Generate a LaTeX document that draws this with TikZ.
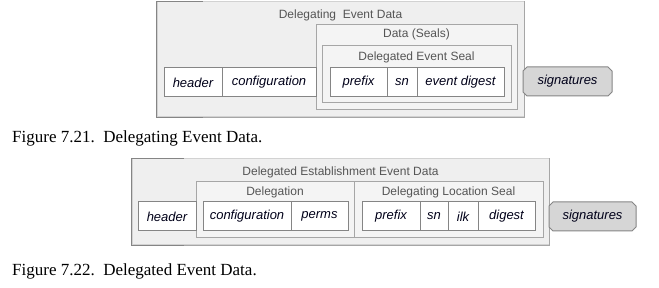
\documentclass[tikz,border=0pt]{standalone}
\usepackage{fontspec}
\setmainfont{Liberation Serif}
\setsansfont{Liberation Sans}
\usetikzlibrary{calc}
\definecolor{outerfill}{HTML}{EFEFEF}
\definecolor{innerfill}{HTML}{F4F4F4}
\definecolor{edgelight}{HTML}{D2D2D2}
\definecolor{edgemid}{HTML}{A6A6A6}
\definecolor{edgedark}{HTML}{858585}
\definecolor{titlegray}{HTML}{555555}
\definecolor{sigfill}{HTML}{D6D6D6}
\tikzset{
  outerbox/.style={draw=edgelight, fill=outerfill, line width=1pt, inner sep=0pt},
  innerbox/.style={draw=edgemid, fill=innerfill, line width=1pt, inner sep=0pt},
  field/.style={draw=edgedark, fill=white, line width=1pt, inner sep=0pt,
    minimum height=29pt, font=\sffamily\itshape\fontsize{13}{15}\selectfont, text=black!90!blue},
  boxtitle/.style={font=\sffamily\fontsize{12}{14}\selectfont, text=titlegray, inner sep=0pt},
  sigtext/.style={font=\sffamily\itshape\fontsize{13}{15}\selectfont, text=black!90!blue, inner sep=0pt},
  sigshape/.style={draw=edgedark, fill=sigfill, line width=1pt},
  bracket/.style={draw=edgedark, line width=1.4pt},
  caption/.style={font=\fontsize{17}{19}\selectfont, inner sep=0pt, anchor=west},
}
\begin{document}
\begin{tikzpicture}[x=1pt, y=-1pt]
\useasboundingbox (0,0) rectangle (659,288);

% ---------- Delegating Event Data ----------
\node[outerbox, minimum width=367pt, minimum height=115pt] (out1) at (340.5,59.5) {};
\draw[edgemid, line width=1pt] (out1.north east) -- (out1.south east) -- (out1.south west);
\draw[bracket] ($(out1.north west)+(46,0)$) -- (out1.north west) -- (out1.south west) -- ($(out1.south west)+(46,0)$);
\node[boxtitle] (t1) at (340.5,15) {Delegating\ \ Event Data};

\node[innerbox, minimum width=201pt, minimum height=85pt] (data) at (416.5,67.5) {};
\node[boxtitle] (tdata) at (416.5,34) {Data (Seals)};
\node[innerbox, minimum width=189pt, minimum height=57pt] (seal1) at (416.5,74.5) {};
\node[boxtitle] (tseal1) at (416.5,57) {Delegated Event Seal};

\node[field, minimum width=58pt] (hdr1) at (193,82.5) {header};
\node[field, minimum width=94pt] (cfg1) at (269,82.5) {configuration};
\node[field, minimum width=57pt] (pfx1) at (358.5,82.5) {prefix};
\node[field, minimum width=30pt] (sn1) at (402,82.5) {sn};
\node[field, minimum width=87pt] (dig1) at (460.5,82.5) {event digest};

\draw[sigshape] (527,67) -- (608,67) -- (612,71) -- (612,92) -- (608,96)
  -- (527,96) -- (523,92) -- (523,71) -- cycle;
\node[sigtext] (sig1) at (567.5,81.5) {signatures};

\node[caption] (cap1) at (12,138) {Figure 7.21.\ \ Delegating Event Data.};

% ---------- Delegated Establishment Event Data ----------
\node[outerbox, minimum width=417pt, minimum height=86pt] (out2) at (340.5,202) {};
\draw[edgemid, line width=1pt] (out2.north east) -- (out2.south east) -- (out2.south west);
\draw[bracket] ($(out2.north west)+(52,0)$) -- (out2.north west) -- (out2.south west) -- ($(out2.south west)+(52,0)$);
\node[boxtitle] (t2) at (340.5,172) {Delegated Establishment Event Data};

\node[innerbox, minimum width=158pt, minimum height=56pt] (deleg) at (275,210) {};
\node[boxtitle] (tdeleg) at (275,192) {Delegation};
\node[innerbox, minimum width=189pt, minimum height=56pt] (loc) at (448.5,210) {};
\node[boxtitle] (tloc) at (448.5,192) {Delegating Location Seal};

\node[field, minimum width=58pt] (hdr2) at (167,216.5) {header};
\node[field, minimum width=88pt] (cfg2) at (247,216.5) {configuration};
\node[field, minimum width=57pt] (prm2) at (319.5,216.5) {perms};
\node[field, minimum width=58pt] (pfx2) at (391,216.5) {prefix};
\node[field, minimum width=28pt] (sn2) at (434,216.5) {sn};
\node[field, minimum width=30pt] (ilk2) at (463,216.5) {ilk};
\node[field, minimum width=57pt] (dig2) at (506.5,216.5) {digest};

\draw[sigshape] (553,202) -- (632,202) -- (636,206) -- (636,227) -- (632,231)
  -- (553,231) -- (549,227) -- (549,206) -- cycle;
\node[sigtext] (sig2) at (592.5,216.5) {signatures};

\node[caption] (cap2) at (12,271) {Figure 7.22.\ \ Delegated Event Data.};
\end{tikzpicture}
\end{document}
